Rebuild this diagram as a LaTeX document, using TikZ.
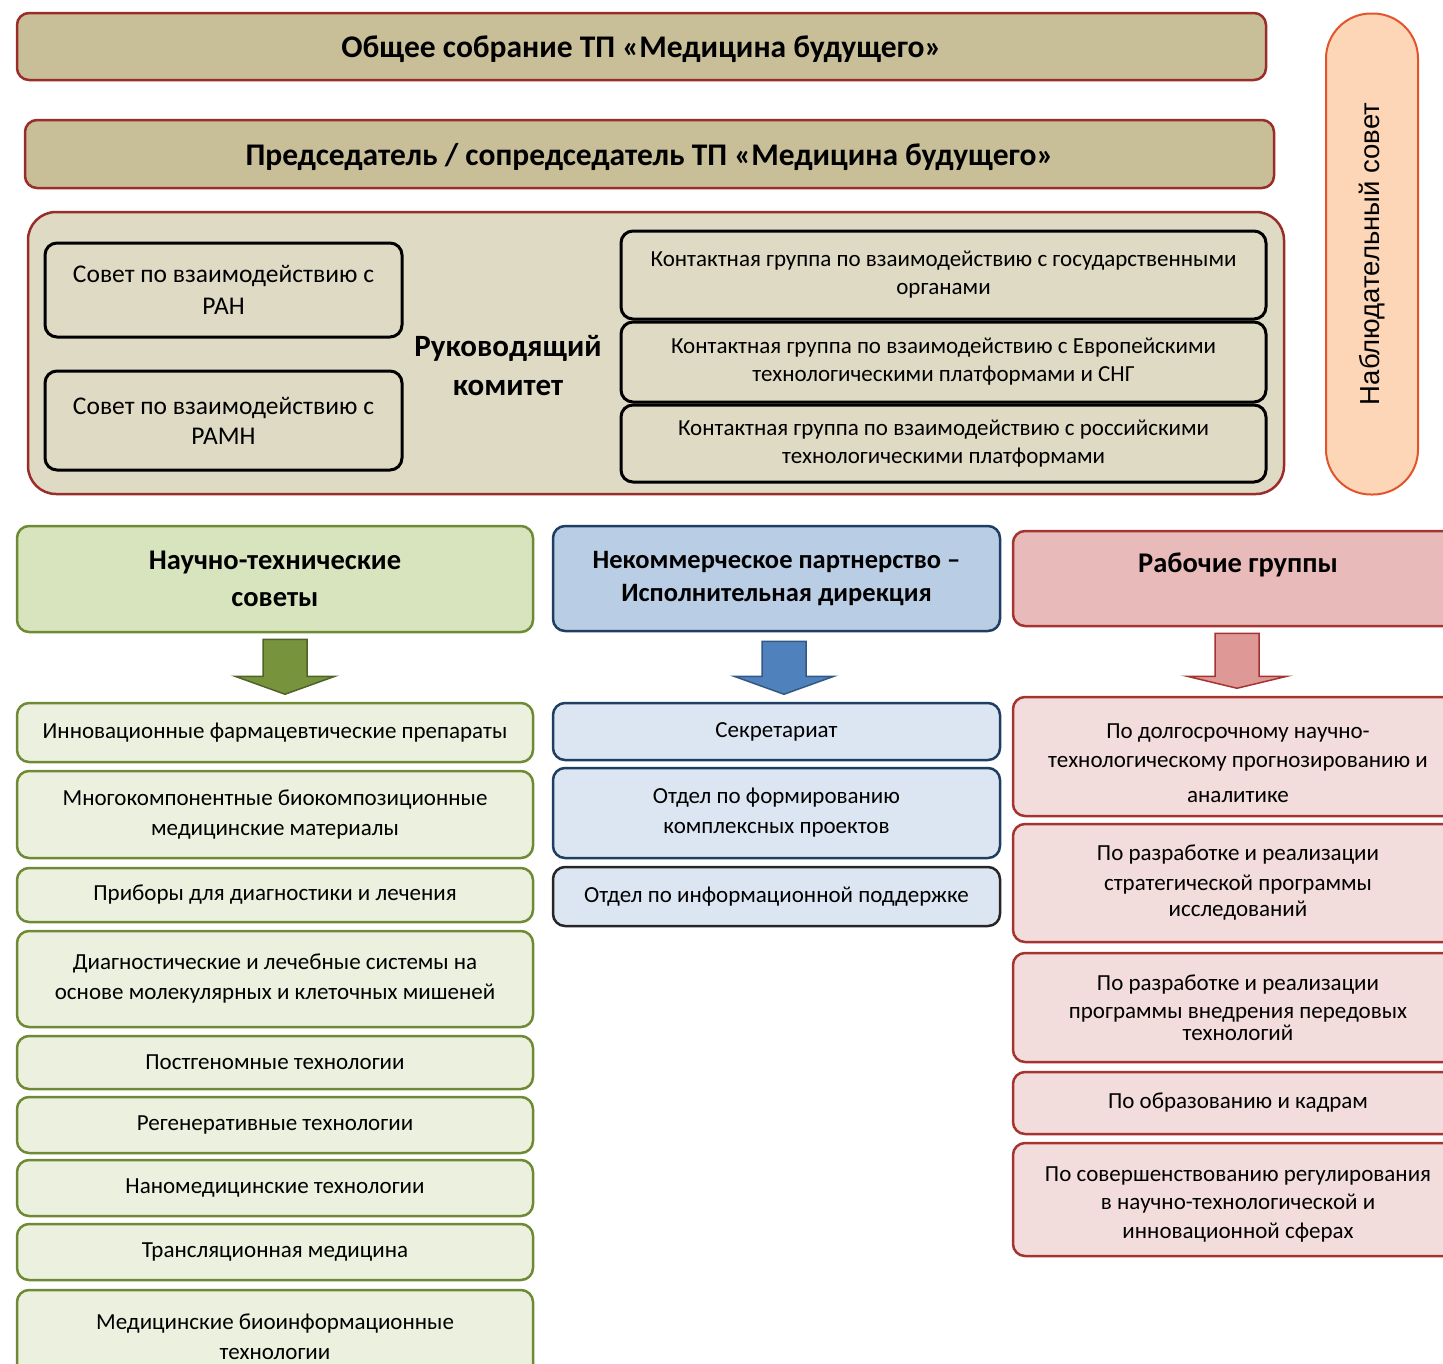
\documentclass[tikz,border=0pt]{standalone}
\usepackage{fontspec}
\setmainfont{Carlito}
\newfontfamily\obsfont{Liberation Sans}
\usetikzlibrary{calc}
\definecolor{tpedge}{RGB}{153,45,42}
\definecolor{tptan}{RGB}{200,190,152}
\definecolor{tpbeige}{RGB}{223,218,196}
\definecolor{obsfill}{RGB}{252,214,183}
\definecolor{obsedge}{RGB}{228,84,44}
\definecolor{grnhead}{RGB}{215,228,189}
\definecolor{grnitem}{RGB}{235,241,222}
\definecolor{grnedge}{RGB}{110,138,52}
\definecolor{grnarr}{RGB}{119,147,60}
\definecolor{grnarredge}{RGB}{79,98,40}
\definecolor{bluhead}{RGB}{185,205,229}
\definecolor{bluitem}{RGB}{220,230,242}
\definecolor{bluedge}{RGB}{31,62,100}
\definecolor{bluarr}{RGB}{79,129,189}
\definecolor{bluarredge}{RGB}{52,88,132}
\definecolor{redhead}{RGB}{232,186,185}
\definecolor{reditem}{RGB}{243,221,220}
\definecolor{rededge}{RGB}{165,52,48}
\definecolor{redarr}{RGB}{222,152,150}
\newcommand{\fbody}{\fontsize{23}{30}\selectfont}
\newcommand{\fhead}{\fontsize{28.5}{37}\selectfont\bfseries}
% box from its corners: style, name, x1, y1, x2, y2, text
\newcommand{\orgbox}[7]{%
  \node[#1, minimum width={#5-#3}, minimum height={#6-#4}] (#2) at ({(#3+#5)/2},{(#4+#6)/2}) {#7};}
% block arrow under a header: style, node, dx, gap, shaft, head
\newcommand{\blockarr}[6]{%
  \draw[#1] ($(#2.south)+(#3-22,#4)$) -- ++(44,0) -- ++(0,#5) -- ++(28,0)
    -- ++(-50,#6) -- ++(-50,-#6) -- ++(28,0) -- cycle;}
\tikzset{
  orgbase/.style={rounded corners=12pt, align=center, inner sep=0pt, font=\fbody},
  tpbar/.style={orgbase, draw=tpedge, fill=tptan, line width=2.5pt, text depth=0pt, font=\fontsize{31.5}{36}\selectfont\bfseries},
  rkframe/.style={draw=tpedge, fill=tpbeige, line width=2.5pt, rounded corners=28pt},
  rkbox/.style={orgbase, draw=black, fill=tpbeige, line width=3pt, font=\fontsize{23}{28}\selectfont},
  obs/.style={draw=obsedge, fill=obsfill, line width=2pt, rounded corners=45pt, font=\obsfont\fontsize{27.5}{30}\selectfont},
  ghead/.style={orgbase, draw=grnedge, fill=grnhead, line width=2.5pt, font=\fhead},
  gitem/.style={orgbase, draw=grnedge, fill=grnitem, line width=2.5pt},
  garr/.style={draw=grnarredge, fill=grnarr, line width=1.5pt, line join=miter},
  bhead/.style={orgbase, draw=bluedge, fill=bluhead, line width=2.5pt, font=\fontsize{26.5}{33}\selectfont\bfseries},
  bitem/.style={orgbase, draw=bluedge, fill=bluitem, line width=2.5pt},
  barr/.style={draw=bluarredge, fill=bluarr, line width=1.5pt, line join=miter},
  rhead/.style={orgbase, draw=rededge, fill=redhead, line width=2.5pt, font=\fhead},
  ritem/.style={orgbase, draw=rededge, fill=reditem, line width=2.5pt, font=\fontsize{23}{28.5}\selectfont},
  rarr/.style={draw=rededge, fill=redarr, line width=1.5pt, line join=miter},
}
\begin{document}
\begin{tikzpicture}[x=1pt, y=-1pt]
\useasboundingbox (0,0) rectangle (1443,1363);
\clip (0,0) rectangle (1443,1363);
% top of the platform
\orgbox{tpbar}{assembly}{17}{13}{1266}{80}{Общее собрание ТП «Медицина будущего»}
\orgbox{tpbar}{chair}{25}{120}{1274}{188}{Председатель / сопредседатель ТП «Медицина будущего»}
\orgbox{rkframe}{steering}{28}{212}{1284}{494}{}
\orgbox{rkbox, font=\fontsize{25.5}{32}\selectfont}{ran}{45}{243}{402}{337}{Совет по взаимодействию с\\РАН}
\orgbox{rkbox, font=\fontsize{25.5}{30}\selectfont}{ramn}{45}{371}{402}{470}{Совет по взаимодействию с\\РАМН}
\node[align=center, font=\fontsize{31}{39}\selectfont\bfseries] (steertitle) at (508,366) {Руководящий\\комитет};
\orgbox{rkbox}{cgov}{621}{231}{1266}{319}{Контактная группа по взаимодействию с государственными\\органами}
\orgbox{rkbox}{ceu}{621}{322}{1266}{402}{Контактная группа по взаимодействию с Европейскими\\технологическими платформами и СНГ}
\orgbox{rkbox}{cru}{621}{405}{1266}{482}{Контактная группа по взаимодействию с российскими\\технологическими платформами}
\node[obs, minimum width=481, minimum height=92, rotate=90] (observers) at (1372,254) {Наблюдательный совет};
% scientific councils
\orgbox{ghead}{ntshead}{17}{526}{533}{632}{Научно-технические\\советы}
\blockarr{garr}{ntshead}{10}{6}{37}{18}
\orgbox{gitem}{nts1}{17}{703}{533}{762}{Инновационные фармацевтические препараты}
\orgbox{gitem}{nts2}{17}{771}{533}{858}{Многокомпонентные биокомпозиционные\\медицинские материалы}
\orgbox{gitem}{nts3}{17}{868}{533}{922}{Приборы для диагностики и лечения}
\orgbox{gitem}{nts4}{17}{931}{533}{1027}{Диагностические и лечебные системы на\\основе молекулярных и клеточных мишеней}
\orgbox{gitem}{nts5}{17}{1036}{533}{1089}{Постгеномные технологии}
\orgbox{gitem}{nts6}{17}{1097}{533}{1153}{Регенеративные технологии}
\orgbox{gitem}{nts7}{17}{1160}{533}{1216}{Наномедицинские технологии}
\orgbox{gitem}{nts8}{17}{1224}{533}{1280}{Трансляционная медицина}
\orgbox{gitem}{nts9}{17}{1290}{533}{1384}{Медицинские биоинформационные\\технологии}
% executive directorate
\orgbox{bhead}{nphead}{553}{526}{1000}{631}{Некоммерческое партнерство –\\Исполнительная дирекция}
\blockarr{barr}{nphead}{7.5}{9}{35}{18}
\orgbox{bitem}{np1}{553}{703}{1000}{760}{Секретариат}
\orgbox{bitem}{np2}{553}{768}{1000}{858}{Отдел по формированию\\комплексных проектов}
\orgbox{bitem, draw=black!85}{np3}{553}{867}{1000}{926}{Отдел по информационной поддержке}
% working groups
\orgbox{rhead}{wghead}{1013}{531}{1463}{626}{}
\node[font=\fhead] (wgtitle) at (1238,565) {Рабочие группы};
\blockarr{rarr}{wghead}{-1}{6}{43}{12}
\orgbox{ritem}{wg1}{1013}{697}{1463}{816}{\rule{0pt}{29pt}По долгосрочному научно-\\технологическому прогнозированию и\\[7pt]аналитике}
\orgbox{ritem}{wg2}{1013}{824}{1463}{942}{По разработке и реализации\\[1pt]стратегической программы\\[-2pt]исследований}
\orgbox{ritem}{wg3}{1013}{953}{1463}{1062}{По разработке и реализации\\программы внедрения передовых\\[-7pt]технологий}
\orgbox{ritem}{wg4}{1013}{1072}{1463}{1134}{По образованию и кадрам}
\orgbox{ritem}{wg5}{1013}{1143}{1463}{1256}{\rule{0pt}{24pt}По совершенствованию регулирования\\в научно-технологической и\\инновационной сферах}
\end{tikzpicture}
\end{document}
